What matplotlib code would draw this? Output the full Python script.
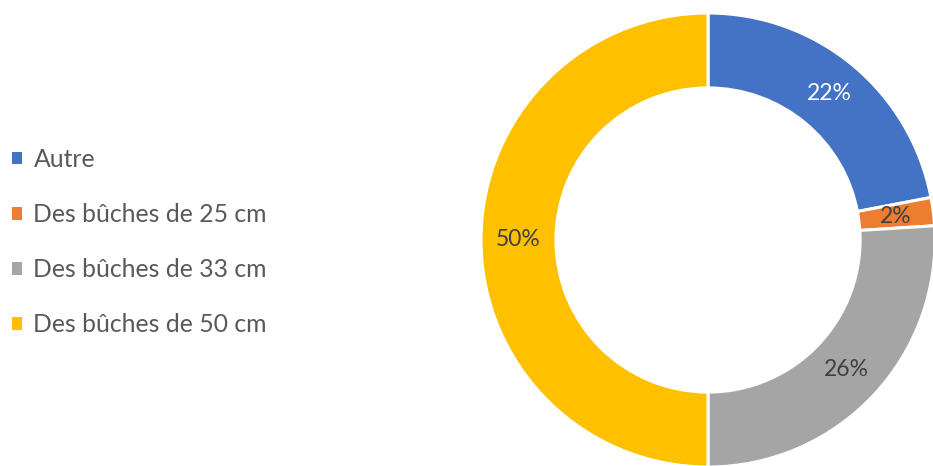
import matplotlib
matplotlib.use("Agg")
import matplotlib.pyplot as plt

categories = ["Autre", "Des bûches de 25 cm", "Des bûches de 33 cm", "Des bûches de 50 cm"]
values = [22, 2, 26, 50]
colors = ["#4472C4", "#ED7D31", "#A5A5A5", "#FFC000"]
label_colors = ["white", "#404040", "#404040", "#404040"]

plt.rcParams['font.family'] = ['Lato', 'DejaVu Sans']

W, H = 933, 466
fig = plt.figure(figsize=(W / 100, H / 100), dpi=100)
cx, cy, r = 708, 240, 227
ax = fig.add_axes([(cx - r) / W, (H - cy - r) / H, 2 * r / W, 2 * r / H])
wedges, texts = ax.pie(values, colors=colors, startangle=90, counterclock=False,
                       radius=1.0,
                       wedgeprops=dict(width=0.33, edgecolor="white", linewidth=2.2),
                       labels=[f"{v}%" for v in values], labeldistance=0.835)
for t, c in zip(texts, label_colors):
    t.set_color(c)
    t.set_fontsize(16.5)
    t.set_ha("center")
    t.set_va("center")
ax.set_xlim(-1, 1)
ax.set_ylim(-1, 1)
ax.set_aspect("equal")
ax.axis("off")

leg = fig.legend(wedges, categories, loc="center left", bbox_to_anchor=(-0.011, 1 - 242 / H),
                 frameon=False, fontsize=17.8, handlelength=0.42, handleheight=0.42,
                 handletextpad=0.45, labelspacing=1.3, labelcolor="#595959")
for h in leg.legend_handles:
    h.set_linewidth(0)

fig.savefig("out.png", dpi=100)
